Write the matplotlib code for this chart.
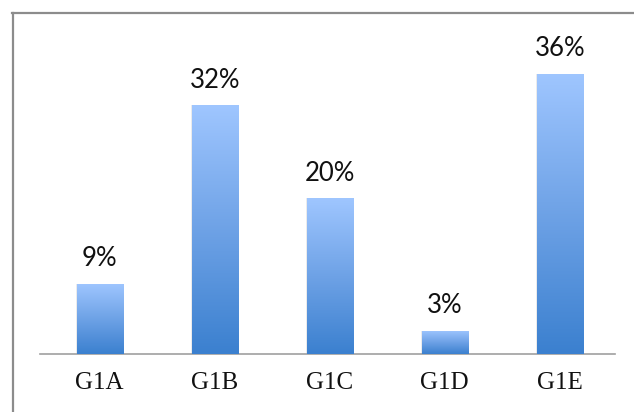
import numpy as np
import matplotlib
matplotlib.use("Agg")
import matplotlib.pyplot as plt
from matplotlib.lines import Line2D
from matplotlib.colors import LinearSegmentedColormap

categories = ["G1A", "G1B", "G1C", "G1D", "G1E"]
values = [9, 32, 20, 3, 36]
value_labels = ["9%", "32%", "20%", "3%", "36%"]

fig = plt.figure(figsize=(6.34, 4.12), dpi=100)
ax = fig.add_axes([0.063, 0.1408, 0.907, 0.7552])

grad = LinearSegmentedColormap.from_list("bar", ["#3b80cf", "#6ea2e6", "#9fc6ff"])
x = np.arange(len(categories))
width = 0.4

bars = ax.bar(x, values, width=width, color="none", edgecolor="none", zorder=2)
ramp = np.linspace(0, 1, 256).reshape(-1, 1)
for b in bars:
    x0, y0 = b.get_x(), b.get_y()
    w, h = b.get_width(), b.get_height()
    # soft shadow around the bar
    ax.bar(x0 + w / 2, h, width=w * 1.04, color="#d9d9d9", alpha=0.5, zorder=1)
    im = ax.imshow(ramp, cmap=grad, origin="lower", aspect="auto",
                   extent=[x0, x0 + w, y0, y0 + h], zorder=3)
    im.set_clip_path(b)

for xi, v, lab in zip(x, values, value_labels):
    ax.annotate(lab, (xi, v), xytext=(0, 9), textcoords="offset points",
                ha="center", va="bottom", fontsize=18.5, family="Lato",
                color="#111111")

ax.set_xlim(-0.52, 4.48)
ax.set_ylim(0, 40)
ax.set_xticks(x)
ax.set_xticklabels(categories, family="Liberation Serif", fontsize=18,
                   color="#111111")
ax.tick_params(axis="x", length=0, pad=13)
ax.set_yticks([])
for s in ["top", "right", "left"]:
    ax.spines[s].set_visible(False)
ax.spines["bottom"].set_color("#a0a0a0")
ax.spines["bottom"].set_linewidth(1.2)

# frame along the left and top edges
fig.add_artist(Line2D([12.5 / 634, 12.5 / 634], [0, 1 - 13 / 412],
                      color="#8c8c8c", lw=1.6, transform=fig.transFigure))
fig.add_artist(Line2D([12 / 634, 1], [1 - 13 / 412, 1 - 13 / 412],
                      color="#8c8c8c", lw=1.6, transform=fig.transFigure))

fig.savefig("out.png", dpi=100)
